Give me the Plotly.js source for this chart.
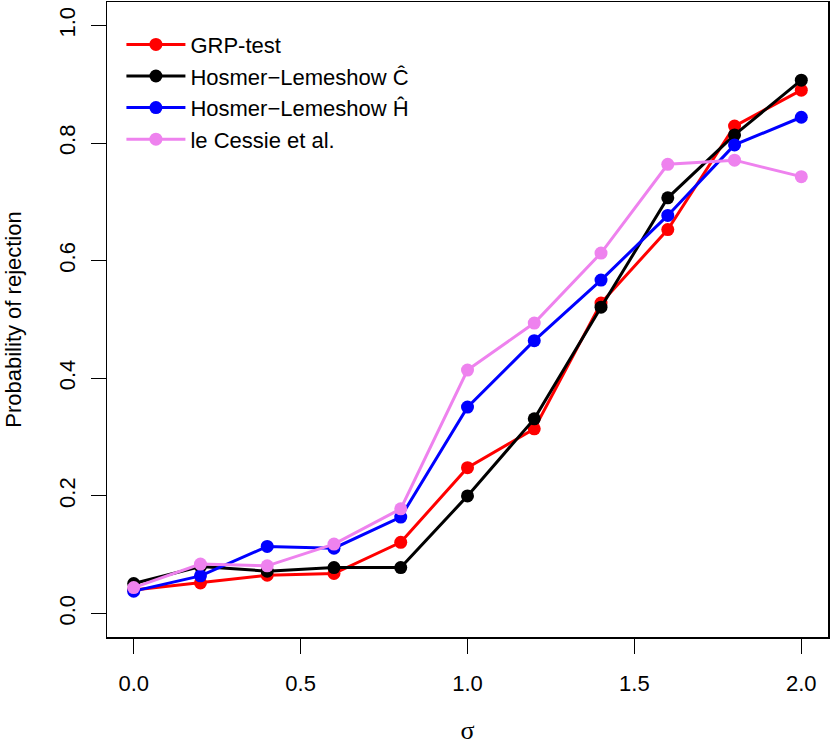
<!DOCTYPE html>
<html>
<head>
<meta charset="utf-8">
<script src="https://cdn.plot.ly/plotly-3.0.1.min.js"></script>
<style>html,body{margin:0;padding:0;background:#fff;}#chart{width:830px;height:745px;}</style>
</head>
<body>
<div id="chart"></div>
<script>
var sigma = [0.0, 0.2, 0.4, 0.6, 0.8, 1.0, 1.2, 1.4, 1.6, 1.8, 2.0];
var grpTest   = [0.040, 0.052, 0.065, 0.068, 0.121, 0.248, 0.314, 0.528, 0.653, 0.829, 0.890];
var hlC       = [0.051, 0.080, 0.072, 0.078, 0.078, 0.200, 0.331, 0.521, 0.707, 0.814, 0.907];
var hlH       = [0.038, 0.064, 0.114, 0.111, 0.164, 0.351, 0.464, 0.567, 0.677, 0.797, 0.844];
var leCessie  = [0.044, 0.084, 0.081, 0.118, 0.178, 0.414, 0.494, 0.613, 0.764, 0.771, 0.743];
var seriesNames = ["GRP-test", "Hosmer\u2212Lemeshow \u0108", "Hosmer\u2212Lemeshow \u0124", "le Cessie et al."];
var seriesColors = ["#FF0000", "#000000", "#0000FF", "#EE82EE"];
var seriesValues = [grpTest, hlC, hlH, leCessie];
var xTicks = [0, 0.5, 1, 1.5, 2];
var xTickText = ["0.0", "0.5", "1.0", "1.5", "2.0"];
var yTicks = [0, 0.2, 0.4, 0.6, 0.8, 1.0];
var yTickText = ["0.0", "0.2", "0.4", "0.6", "0.8", "1.0"];

var traces = seriesValues.map(function (vals, i) {
  return {
    x: sigma, y: vals, name: seriesNames[i],
    type: "scatter", mode: "lines+markers",
    line: {color: seriesColors[i], width: 3},
    marker: {color: seriesColors[i], size: 13}
  };
});

var font = "Liberation Sans, Arial, Helvetica, sans-serif";
var layout = {
  width: 830, height: 745,
  margin: {l: 107, r: 2, t: 2, b: 108},
  paper_bgcolor: "#fff", plot_bgcolor: "#fff",
  font: {family: font, size: 22, color: "#000"},
  showlegend: true,
  legend: {x: 0.02, y: 0.966, xanchor: "left", yanchor: "top",
           bgcolor: "rgba(0,0,0,0)", borderwidth: 0,
           font: {family: font, size: 22, color: "#000"},
           itemwidth: 59, tracegroupgap: 0},
  xaxis: {
    range: [-0.08, 2.08], tickvals: xTicks, ticktext: xTickText,
    showgrid: false, zeroline: false, showline: true, mirror: true,
    linecolor: "#000", linewidth: 1.5,
    ticks: "outside", ticklen: 15, tickwidth: 1.2, tickcolor: "#000",
    ticklabelstandoff: 11,
    tickfont: {family: font, size: 22},
    title: {text: "\u03C3", font: {family: "Liberation Serif, DejaVu Serif, serif", size: 26}, standoff: 47}
  },
  yaxis: {
    range: [-0.04, 1.04], tickvals: yTicks, ticktext: yTickText,
    showgrid: false, zeroline: false, showline: true, mirror: true,
    linecolor: "#000", linewidth: 1.5,
    ticks: "outside", ticklen: 15, tickwidth: 1.2, tickcolor: "#000",
    tickangle: -90, ticklabelstandoff: 7,
    tickfont: {family: font, size: 22},
    title: {text: "Probability of rejection", font: {family: font, size: 22}, standoff: 27}
  }
};

Plotly.newPlot("chart", traces, layout, {displayModeBar: false, staticPlot: true});
</script>
</body>
</html>
